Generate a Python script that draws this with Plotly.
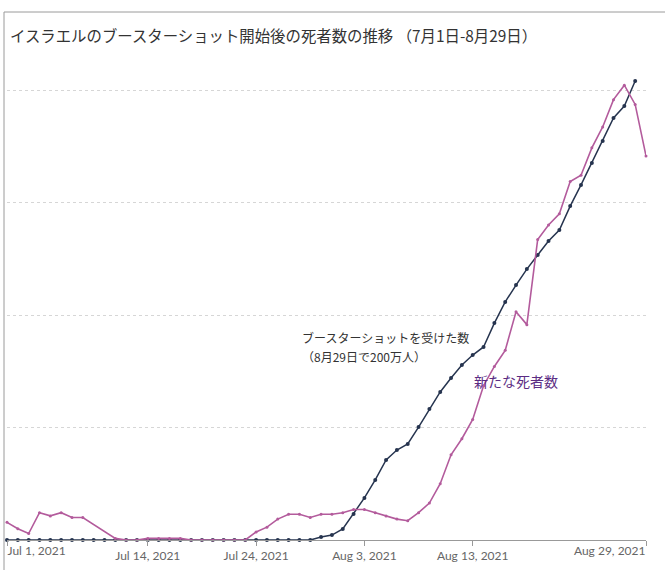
"""
Israel: deaths after the start of booster shots (Jul 1 - Aug 29, 2021).
"""

import pandas as pd
import plotly.graph_objects as go

dates = pd.date_range("2021-07-01", "2021-08-29", freq="D")

# cumulative booster shots, 万人 (zero until Jul 30)
boosters = [0] * 29 + [
    1.3, 2.2, 4.9, 11.6, 18.7, 26.7, 35.6, 40.0, 42.7, 50.2,
    58.2, 65.8, 72.0, 77.8, 82.2, 85.8, 96.4, 105.8, 113.3, 120.4,
    126.7, 132.9, 137.8, 148.4, 157.8, 167.6, 177.3, 187.6, 192.9, 204.0,
]

# new deaths (None = no value, line joins across)
deaths = [
    1.1, 0.7, 0.4, 1.7, 1.5, 1.7, 1.4, 1.4, None, None,
    0.1, 0.0, 0.0, 0.1, 0.1, 0.1, 0.1, 0.0, 0.0, 0.0,
    0.0, 0.0, 0.0, 0.5, 0.8, 1.3, 1.6, 1.6, 1.4, 1.6,
    1.6, 1.7, 1.9, 1.9, 1.7, 1.5, 1.3, 1.2, 1.7, 2.3,
    3.5, 5.3, 6.3, 7.5, 9.6, 10.8, 11.8, 14.2, 13.4, 18.7,
    19.6, 20.3, 22.3, 22.7, 24.4, 25.7, 27.4, 28.3, 27.1, 23.9,
]

mid_ticks = ["2021-07-14", "2021-07-24", "2021-08-03", "2021-08-13"]
first_tick = ["2021-07-01"]
last_tick = ["2021-08-29"]

title = "イスラエルのブースターショット開始後の死者数の推移 （7月1日-8月29日）"
booster_note = ["ブースターショットを受けた数", "（8月29日で200万人）"]
deaths_note = "新たな死者数"

JP = "Noto Sans CJK JP"
NAVY = "#26344f"
PINK = "#b35b9c"

fig = go.Figure()
fig.add_trace(go.Scatter(
    x=dates, y=deaths, mode="lines+markers", name="deaths",
    line=dict(color=PINK, width=1.6), marker=dict(color=PINK, size=3),
    connectgaps=True, xaxis="x2", yaxis="y2", cliponaxis=False,
))
fig.add_trace(go.Scatter(
    x=dates, y=boosters, mode="lines+markers", name="boosters",
    line=dict(color=NAVY, width=1.5), marker=dict(color=NAVY, size=4),
    cliponaxis=False,
))
# empty trace so the third (last-label) axis gets drawn
fig.add_trace(go.Scatter(x=[], y=[], xaxis="x3", hoverinfo="skip"))

x_range = [dates[0], dates[-1]]
tick_style = dict(
    type="date", range=x_range, tickformat="%b %-d, %Y",
    ticks="outside", ticklen=5, tickcolor="#999",
    tickfont=dict(family="Lato", size=12, color="#666"),
    showgrid=False, zeroline=False, fixedrange=True,
)

fig.update_layout(
    width=665, height=570,
    paper_bgcolor="white", plot_bgcolor="white",
    margin=dict(l=7, r=19, t=70, b=30),
    showlegend=False,
    title=dict(
        text=title, xref="container", x=10 / 665, xanchor="left",
        y=1 - 37 / 570, yanchor="middle",
        font=dict(family=JP, size=15.4, color="#333"),
    ),
    xaxis=dict(**tick_style, tickvals=mid_ticks,
               showline=True, linecolor="#999", linewidth=1),
    xaxis2=dict(**tick_style, tickvals=first_tick, overlaying="x",
                anchor="y2", ticklabelposition="outside right", showline=False),
    xaxis3=dict(**tick_style, tickvals=last_tick, overlaying="x",
                anchor="y", ticklabelposition="outside left", showline=False),
    yaxis=dict(range=[0, 50 * 470 / 112.5], dtick=50, tick0=0,
               showticklabels=False, showline=False, zeroline=False,
               gridcolor="#d6d6d6", griddash="dot", gridwidth=1,
               fixedrange=True),
    yaxis2=dict(range=[0, 7 * 470 / 112.5], overlaying="y", anchor="x2",
                showticklabels=False, showgrid=False, zeroline=False,
                showline=False, fixedrange=True),
)

fig.add_annotation(
    text=booster_note[0], xref="paper", yref="paper",
    x=(300 - 7) / 639, y=(540 - 338) / 470, xanchor="left", yanchor="middle",
    showarrow=False, font=dict(family=JP, size=12, color="#333"),
)
fig.add_annotation(
    text=booster_note[1], xref="paper", yref="paper",
    x=(300 - 7) / 639, y=(540 - 356) / 470, xanchor="left", yanchor="middle",
    showarrow=False, font=dict(family=JP, size=12, color="#333"),
)
fig.add_annotation(
    text=deaths_note, xref="paper", yref="paper",
    x=(472 - 7) / 639, y=(540 - 381) / 470, xanchor="left", yanchor="middle",
    showarrow=False, font=dict(family=JP, size=14, color="#5b2c83"),
)

# thin grey frame on the top and left edges of the picture
frame = dict(type="line", xref="paper", yref="paper",
             line=dict(color="#9a9a9a", width=1))
fig.add_shape(**frame, x0=(4 - 7) / 639, x1=(4 - 7) / 639,
              y0=(540 - 570) / 470, y1=(540 - 12) / 470)
fig.add_shape(**frame, x0=(4 - 7) / 639, x1=(665 - 7) / 639,
              y0=(540 - 12) / 470, y1=(540 - 12) / 470)

# drop the page's default body margin so the figure sits at (0, 0)
fig.write_html(
    "out.html",
    config={"displayModeBar": False},
    post_script="document.body.style.margin = '0';",
)
